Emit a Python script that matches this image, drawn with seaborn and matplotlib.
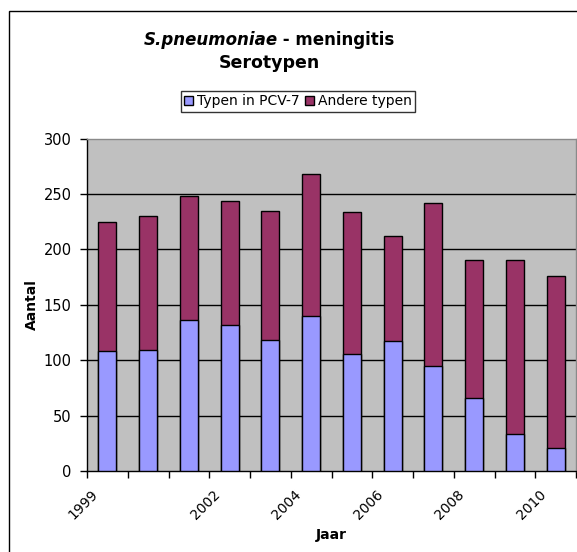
import matplotlib
matplotlib.use("Agg")
import matplotlib.pyplot as plt
import matplotlib.transforms as mtransforms
import seaborn as sns
import pandas as pd
import numpy as np
from matplotlib.patches import Rectangle, Patch

years = ["1999", "2000", "2001", "2002", "2003", "2004", "2005", "2006", "2007", "2008", "2009", "2010"]
pcv7 = [108, 109, 136, 132, 118, 140, 106, 117, 95, 66, 33, 21]
andere = [117, 121, 112, 112, 117, 128, 128, 95, 147, 124, 157, 155]
shown_ticks = ["1999", "2002", "2004", "2006", "2008", "2010"]
y_ticks = [0, 50, 100, 150, 200, 250, 300]

df = pd.DataFrame({"Jaar": years, "pcv7": pcv7, "andere": andere})
df["total"] = df["pcv7"] + df["andere"]

sns.set_theme(style="white")
plt.rcParams["font.family"] = ["DejaVu Sans"]
plt.rcParams["text.color"] = "black"
plt.rcParams["axes.labelcolor"] = "black"
plt.rcParams["xtick.color"] = "black"
plt.rcParams["ytick.color"] = "black"

W, H = 577, 552
fig = plt.figure(figsize=(W / 100, H / 100), dpi=100)
ax = fig.add_axes([87 / W, 1 - 471 / H, (576 - 87) / W, (471 - 138.5) / H])
ax.set_facecolor("#C0C0C0")

blue = "#9999FF"
maroon = "#993366"

sns.barplot(data=df, x="Jaar", y="total", color=maroon, saturation=1, width=0.44,
            edgecolor="black", linewidth=1.0, ax=ax, zorder=3)
sns.barplot(data=df, x="Jaar", y="pcv7", color=blue, saturation=1, width=0.44,
            edgecolor="black", linewidth=1.0, ax=ax, zorder=4)

ax.set_xlim(-0.5, len(years) - 0.5)
ax.set_ylim(0, 300)
ax.set_yticks(y_ticks)
ax.set_yticklabels([str(v) for v in y_ticks], fontsize=10.5, color="black")
for v in y_ticks[1:-1]:
    ax.axhline(v, color="black", linewidth=1.0, zorder=1)

# category boundary ticks, labels placed at selected categories
ax.set_xticks(np.arange(-0.5, len(years), 1.0))
ax.set_xticklabels([])
ax.tick_params(axis="x", which="major", length=5, width=1, color="black", direction="out", bottom=True)
ax.tick_params(axis="y", which="major", length=5, width=1, color="black", direction="out", pad=6, left=True)

trans = mtransforms.blended_transform_factory(ax.transData, ax.transAxes)
for lab in shown_ticks:
    i = years.index(lab)
    off = mtransforms.offset_copy(trans, fig=fig, x=-12, y=-21, units="dots")
    ax.text(i, 0, lab, transform=off, rotation=45, ha="right", va="center",
            rotation_mode="anchor", fontsize=10, color="black")

for s in ["left", "bottom"]:
    ax.spines[s].set_color("black")
    ax.spines[s].set_linewidth(1.0)
for s in ["top", "right"]:
    ax.spines[s].set_color("#8A8A8A")
    ax.spines[s].set_linewidth(1.0)

ax.set_xlabel("")
fig.text(331 / W, 1 - 535 / H, "Jaar", fontsize=10, fontweight="bold", ha="center", va="center", color="black")
ax.set_ylabel("Aantal", fontsize=10, fontweight="bold", labelpad=3, color="black")

# outer chart border
fig.patches.append(Rectangle((8.5 / W, -0.05), 1.1, 1 - 10.5 / H + 0.05, transform=fig.transFigure,
                             fill=False, edgecolor="black", linewidth=1.0))

# title with mixed styling
fig.canvas.draw()
r = fig.canvas.get_renderer()
cx = 269
t1 = fig.text(0, 1 - 40 / H, "S.pneumoniae", fontsize=12, fontweight="bold", style="italic", va="center", color="black")
t2 = fig.text(0, 1 - 40 / H, " - meningitis", fontsize=12, fontweight="bold", va="center", color="black")
w1 = t1.get_window_extent(r).width
w2 = t2.get_window_extent(r).width
x0 = cx - (w1 + w2) / 2
t1.set_x(x0 / W)
t2.set_x((x0 + w1) / W)
fig.text(cx / W, 1 - 63 / H, "Serotypen", fontsize=12.5, fontweight="bold", ha="center", va="center", color="black")

# legend
handles = [Patch(facecolor=blue, edgecolor="black", label="Typen in PCV-7"),
           Patch(facecolor=maroon, edgecolor="black", label="Andere typen")]
leg = fig.legend(handles=handles, loc="center", bbox_to_anchor=(298 / W, 1 - 101.5 / H), ncol=2,
                 fontsize=10, frameon=True, fancybox=False, edgecolor="black", handlelength=0.65,
                 handleheight=0.65, handletextpad=0.3, columnspacing=0.4, borderpad=0.22,
                 borderaxespad=0, labelcolor="black")
leg.get_frame().set_linewidth(1.0)

fig.savefig("out.png", dpi=100)
